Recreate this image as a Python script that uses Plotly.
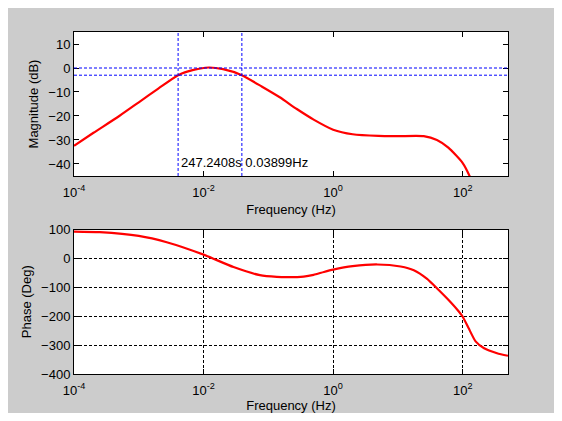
import plotly.graph_objects as go
from plotly.subplots import make_subplots
import numpy as np

# ---- data ----
mag_freq = [1e-4, 2e-4, 5e-4, 1e-3, 2e-3, 4.04e-3, 7e-3, 0.012, 0.02, 0.039, 0.08,
            0.15, 0.275, 0.5, 1, 2, 5, 10, 25, 40, 60, 100, 130, 150]
mag_db = [-32.4, -27.0, -20.0, -14.3, -8.6, -3.0, -0.8, 0.2, -0.5, -3.0, -7.8,
          -12.2, -17.1, -21.5, -25.7, -27.6, -28.3, -28.4, -28.4, -30.0, -33.2, -39.6, -45.5, -50.0]

ph_freq = [1e-4, 2.5e-4, 1e-3, 2.7e-3, 0.01, 0.029, 0.074, 0.135, 0.2, 0.35, 0.5, 0.72,
           1, 2, 4.8, 11, 17.6, 28.2, 40.7, 57.5, 82, 100, 123, 158, 214, 339, 500]
ph_deg = [93, 91, 78, 56, 13, -30, -58, -64, -65, -63, -57, -47,
          -39, -27, -21, -28, -41, -71, -105, -139, -177, -202, -241, -287, -311, -328, -337]

f_low = 1 / 247.2408      # Hz
f_high = 0.03899          # Hz
ref_levels_db = [0, -3]
cursor_text = "247.2408s 0.03899Hz"

x_tickvals = [1e-4, 1e-2, 1, 1e2]
x_ticktext = ["10<sup>-4</sup>", "10<sup>-2</sup>", "10<sup>0</sup>", "10<sup>2</sup>"]
mag_ticks = [10, 0, -10, -20, -30, -40]
ph_ticks = [100, 0, -100, -200, -300, -400]

FONT = "Liberation Sans, Arial, sans-serif"
DASH = "3px,2px"

fig = make_subplots(rows=2, cols=1, vertical_spacing=0.0)

fig.add_trace(go.Scatter(x=mag_freq, y=mag_db, mode="lines",
                         line=dict(color="#ff0000", width=2.2, shape="spline", smoothing=0.6),
                         showlegend=False), row=1, col=1)
fig.add_trace(go.Scatter(x=ph_freq, y=ph_deg, mode="lines",
                         line=dict(color="#ff0000", width=2.2, shape="spline", smoothing=0.6),
                         showlegend=False), row=2, col=1)

# cursor lines on magnitude plot
for fv in [f_low, f_high]:
    fig.add_shape(type="line", xref="x", yref="y domain", x0=fv, x1=fv, y0=0, y1=1,
                  line=dict(color="#0000ff", width=1, dash=DASH), layer="above")
for lv in ref_levels_db:
    fig.add_shape(type="line", xref="x domain", yref="y", x0=0, x1=1, y0=lv, y1=lv,
                  line=dict(color="#0000ff", width=1, dash=DASH), layer="above")

fig.add_annotation(x=np.log10(f_low), y=-39.5, xref="x", yref="y", text=cursor_text,
                   showarrow=False, xanchor="left", yanchor="middle", xshift=1,
                   font=dict(family=FONT, size=13, color="black"))

axis_common = dict(type="log", range=[-4, np.log10(500)], tickvals=x_tickvals, ticktext=x_ticktext,
                   showline=True, linecolor="black", linewidth=1, mirror="ticks",
                   ticks="inside", ticklen=5, tickcolor="black", automargin=False,
                   ticklabelstandoff=4,
                   tickfont=dict(family=FONT, size=13, color="black"),
                   title=dict(text="Frequency (Hz)", font=dict(family=FONT, size=13, color="black"), standoff=6),
                   zeroline=False)

fig.update_xaxes(**axis_common, showgrid=False, row=1, col=1)
fig.update_xaxes(**axis_common, showgrid=True, gridcolor="black", griddash=DASH, gridwidth=1, row=2, col=1)

fig.update_yaxes(range=[-45, 15], tickvals=mag_ticks, showline=True, linecolor="black", linewidth=1,
                 mirror="ticks", ticks="inside", ticklen=5, tickcolor="black", showgrid=False, zeroline=False,
                 automargin=False, tickfont=dict(family=FONT, size=13, color="black"),
                 title=dict(text="Magnitude (dB)", font=dict(family=FONT, size=13, color="black"), standoff=6),
                 row=1, col=1)
fig.update_yaxes(range=[-400, 100], tickvals=ph_ticks, showline=True, linecolor="black", linewidth=1,
                 mirror="ticks", ticks="inside", ticklen=5, tickcolor="black",
                 showgrid=True, gridcolor="black", griddash=DASH, gridwidth=1, zeroline=False,
                 automargin=False, tickfont=dict(family=FONT, size=13, color="black"),
                 title=dict(text="Phase (Deg)", font=dict(family=FONT, size=13, color="black"), standoff=6),
                 row=2, col=1)

fig.update_layout(xaxis=dict(domain=[0, 1]), yaxis=dict(domain=[0.579, 1]),
                  xaxis2=dict(domain=[0, 1]), yaxis2=dict(domain=[0, 0.4225]))

# the page has an 8px body margin: figure is sized so it fits without scrollbars
OFF = 8
W, H = 562 - OFF, 421 - 2 * OFF
ml, mt = 74 - OFF, 32 - OFF
mr = W - (508 - OFF)
mb = H - (374.3 - OFF)
pw = W - ml - mr
fig.add_shape(type="line", xref="paper", yref="paper",
              x0=(560.5 - OFF - ml) / pw, x1=(560.5 - OFF - ml) / pw, y0=-1, y1=2,
              line=dict(color="#202020", width=2))

fig.update_layout(width=W, height=H, margin=dict(l=ml, r=mr, t=mt, b=mb, autoexpand=False),
                  paper_bgcolor="#cccccc", plot_bgcolor="white",
                  font=dict(family=FONT, size=12, color="black"), showlegend=False)

fig.write_html("out.html")
